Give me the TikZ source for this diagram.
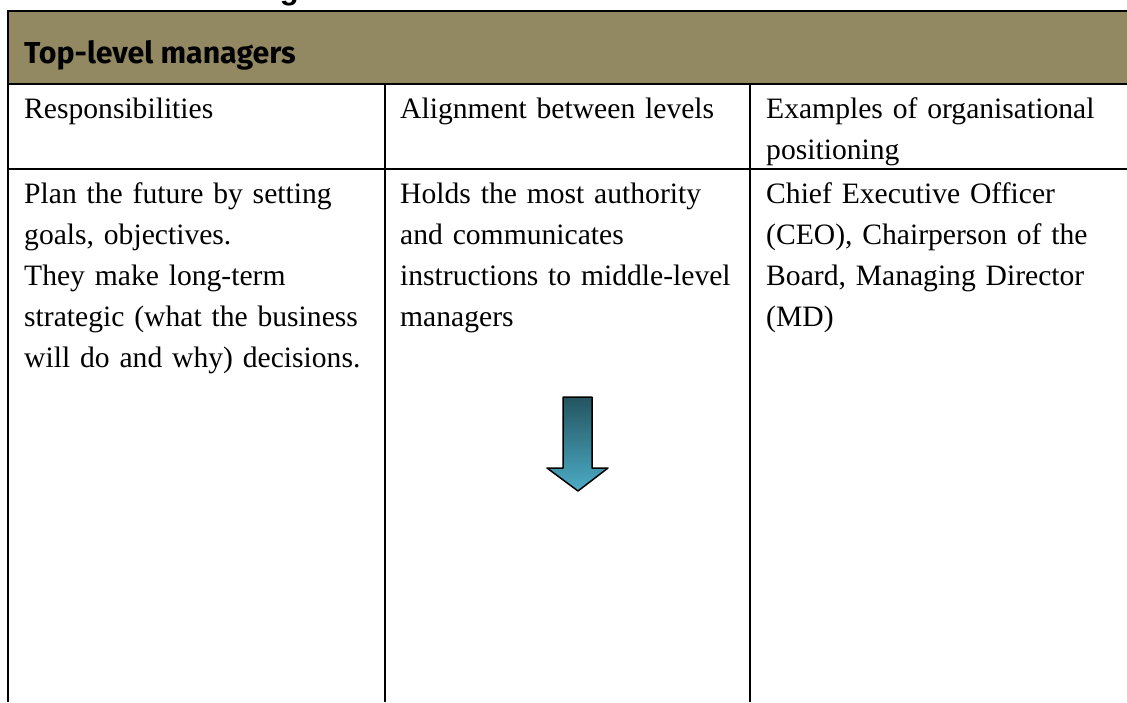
\documentclass[tikz,border=0pt]{standalone}
\usepackage{fontspec}
\usepackage{xcolor}
\setmainfont{Liberation Serif}
\newfontfamily\headfont{Fira Sans}
\newfontfamily\chapfont{Liberation Sans}
\definecolor{headolive}{RGB}{146,137,99}
\definecolor{arrowdark}{RGB}{36,84,96}
\definecolor{arrowlight}{RGB}{76,172,198}

\begin{document}
\begin{tikzpicture}[x=1pt,y=-1pt,
  cell/.style={anchor=base west, inner sep=0pt, text width=345pt, align=left, font=\fontsize{29.6}{41}\selectfont},
  head/.style={anchor=base west, inner sep=0pt, font=\headfont\bfseries\fontsize{30.3}{36}\selectfont},
  rule/.style={line width=2pt},
  downarrow/.style={draw=black, line width=1.5pt, line join=round, top color=arrowdark, bottom color=arrowlight}]
\useasboundingbox (0,0) rectangle (1127,702);
\clip (0,0) rectangle (1127,702);
\node[anchor=base west, inner sep=0pt, font=\chapfont\bfseries\fontsize{31}{36}\selectfont] (chap) at (4,-0.5) {1.1 Levels of management};
\fill[headolive] (8,11) rectangle (1127,84);
\draw[rule] (1127,11) -- (8,11) -- (8,702);
\draw[rule] (8,84) -- (1127,84);
\draw[rule] (8,169) -- (1127,169);
\draw[rule] (385,84) -- (385,702);
\draw[rule] (750,84) -- (750,702);
\node[head] (top) at (24,63) {Top-level managers};
\node[cell] (resp) at (24,118) {Responsibilities};
\node[cell] (align) at (400,118) {Alignment between levels};
\node[cell] (examples) at (766,118) {Examples of organisational\\positioning};
\node[cell] (plan) at (24,203) {Plan the future by setting\\goals, objectives.\\They make long-term\\strategic (what the business\\will do and why) decisions.};
\node[cell] (holds) at (400,203) {Holds the most authority\\and communicates\\instructions to middle-level\\managers};
\node[cell] (ceo) at (766,203) {Chief Executive Officer\\(CEO), Chairperson of the\\Board, Managing Director\\(MD)};
\draw[downarrow] (563,397) -- (592,397) -- (592,468) -- (608,468) -- (578,491) -- (547,468) -- (563,468) -- cycle;
\end{tikzpicture}
\end{document}
